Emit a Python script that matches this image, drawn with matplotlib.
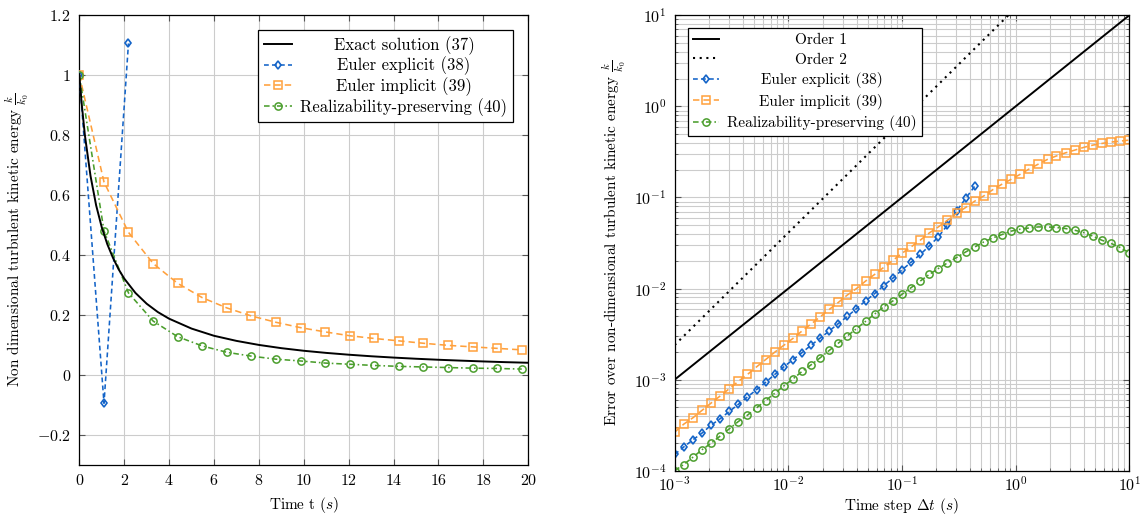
import matplotlib
matplotlib.use("Agg")
import matplotlib.pyplot as plt

plt.rcParams.update({
    'font.family': 'serif',
    'font.serif': ['cmr10'],
    'mathtext.fontset': 'cm',
    'axes.formatter.use_mathtext': True,
    'font.size': 11.5,
})

blue = '#1464c8'
orange = '#ffa03c'
green = '#4b9e2d'
grid_gray = '#cccccc'

# ---- left panel : k/k0 vs time ----
t_exact = [0, 0.1, 0.25, 0.5, 0.75, 1, 1.25, 1.5, 1.75, 2, 2.5, 3, 3.5, 4, 5, 6, 7, 8,
           9, 10, 11, 12, 13, 14, 15, 16, 17, 18, 19, 20]
k_exact = [1, 0.909, 0.798, 0.663, 0.565, 0.492, 0.435, 0.390, 0.352, 0.321, 0.273, 0.237,
           0.209, 0.187, 0.154, 0.130, 0.113, 0.0995, 0.0887, 0.080, 0.0729, 0.0669,
           0.0617, 0.0573, 0.0534, 0.050, 0.0471, 0.0444, 0.0420, 0.040]

t_explicit = [0, 1.1, 2.19]
k_explicit = [1, -0.095, 1.105]

t_steps = [0, 1.1, 2.19, 3.29, 4.38, 5.48, 6.57, 7.67, 8.76, 9.86, 10.95, 12.05, 13.14,
           14.24, 15.33, 16.43, 17.52, 18.62, 19.71]
k_implicit = [1, 0.643, 0.475, 0.371, 0.305, 0.257, 0.223, 0.196, 0.175, 0.157, 0.143,
              0.130, 0.121, 0.113, 0.105, 0.098, 0.093, 0.088, 0.083]
k_realiz = [1, 0.48, 0.273, 0.179, 0.127, 0.096, 0.075, 0.062, 0.052, 0.046, 0.039,
            0.035, 0.031, 0.028, 0.026, 0.024, 0.022, 0.021, 0.019]

left_xticks = [0, 2, 4, 6, 8, 10, 12, 14, 16, 18, 20]
left_yticks = [-0.2, 0, 0.2, 0.4, 0.6, 0.8, 1, 1.2]
left_ylabels = ['$-0.2$', '$0$', '$0.2$', '$0.4$', '$0.6$', '$0.8$', '$1$', '$1.2$']

# ---- right panel : error vs time step ----
dt = [1.00e-3, 1.20e-3, 1.45e-3, 1.74e-3, 2.09e-3, 2.51e-3, 3.02e-3, 3.63e-3, 4.37e-3,
      5.25e-3, 6.31e-3, 7.59e-3, 9.12e-3, 1.10e-2, 1.32e-2, 1.58e-2, 1.91e-2, 2.29e-2,
      2.75e-2, 3.31e-2, 3.98e-2, 4.79e-2, 5.75e-2, 6.92e-2, 8.32e-2, 0.100, 0.120, 0.145,
      0.174, 0.209, 0.251, 0.302, 0.363, 0.437, 0.525, 0.631, 0.759, 0.912, 1.10, 1.32,
      1.58, 1.91, 2.29, 2.75, 3.31, 3.98, 4.79, 5.75, 6.92, 8.32, 10.0]
err_explicit = [1.51e-4, 1.82e-4, 2.19e-4, 2.59e-4, 3.16e-4, 3.72e-4, 4.47e-4, 5.35e-4,
                6.46e-4, 7.76e-4, 9.33e-4, 1.14e-3, 1.38e-3, 1.66e-3, 1.98e-3, 2.38e-3,
                2.86e-3, 3.42e-3, 4.12e-3, 4.95e-3, 6.03e-3, 7.33e-3, 8.81e-3, 1.08e-2,
                1.30e-2, 1.60e-2, 1.94e-2, 2.37e-2, 2.94e-2, 3.69e-2, 4.97e-2, 7.08e-2,
                9.75e-2, 0.133]
err_implicit = [2.65e-4, 3.24e-4, 3.82e-4, 4.60e-4, 5.53e-4, 6.61e-4, 7.94e-4, 9.57e-4,
                1.14e-3, 1.38e-3, 1.66e-3, 2.00e-3, 2.38e-3, 2.84e-3, 3.42e-3, 4.07e-3,
                4.90e-3, 5.89e-3, 7.03e-3, 8.51e-3, 1.00e-2, 1.21e-2, 1.43e-2, 1.71e-2,
                2.04e-2, 2.44e-2, 2.86e-2, 3.40e-2, 4.08e-2, 4.75e-2, 5.62e-2, 6.67e-2,
                7.76e-2, 9.12e-2, 0.104, 0.122, 0.140, 0.158, 0.180, 0.206, 0.232, 0.262,
                0.286, 0.309, 0.331, 0.355, 0.376, 0.392, 0.406, 0.416, 0.427]
err_realiz = [1.00e-4, 1.17e-4, 1.41e-4, 1.70e-4, 2.00e-4, 2.40e-4, 2.88e-4, 3.47e-4,
              4.07e-4, 4.90e-4, 5.89e-4, 7.08e-4, 8.51e-4, 1.02e-3, 1.23e-3, 1.45e-3,
              1.74e-3, 2.09e-3, 2.51e-3, 3.02e-3, 3.63e-3, 4.37e-3, 5.25e-3, 6.31e-3,
              7.31e-3, 8.65e-3, 1.02e-2, 1.21e-2, 1.43e-2, 1.66e-2, 1.91e-2, 2.19e-2,
              2.52e-2, 2.86e-2, 3.25e-2, 3.60e-2, 3.92e-2, 4.27e-2, 4.49e-2, 4.63e-2,
              4.75e-2, 4.75e-2, 4.68e-2, 4.56e-2, 4.37e-2, 4.12e-2, 3.76e-2, 3.39e-2,
              3.13e-2, 2.82e-2, 2.47e-2]

order1_dt = [1e-3, 10]
order1_err = [1e-3, 10]
order2_dt = [1e-3, 1.0]
order2_err = [2.4e-3, 12.0]

right_xticks = [1e-3, 1e-2, 1e-1, 1e0, 1e1]
right_xlabels = ['$10^{-3}$', '$10^{-2}$', '$10^{-1}$', '$10^{0}$', '$10^{1}$']
right_yticks = [1e-4, 1e-3, 1e-2, 1e-1, 1e0, 1e1]
right_ylabels = ['$10^{-4}$', '$10^{-3}$', '$10^{-2}$', '$10^{-1}$', '$10^{0}$', '$10^{1}$']


fig = plt.figure(figsize=(11.41, 5.14), dpi=100)
ax1 = fig.add_axes([0.0695, 0.0959, 0.3935, 0.875])
ax2 = fig.add_axes([0.5913, 0.0842, 0.3984, 0.886])

lw_c = 1.15
ax1.plot(t_exact, k_exact, color='black', lw=1.4, label='Exact solution (37)', zorder=4)
ax1.plot(t_explicit, k_explicit, color=blue, lw=lw_c, ls=(0, (3, 2)), marker='d',
         ms=4.5, mfc='none', mew=1.2, label='Euler explicit (38)', zorder=3)
ax1.plot(t_steps, k_implicit, color=orange, lw=lw_c, ls=(0, (4, 2.5)), marker='s',
         ms=5.2, mfc='none', mew=1.1, label='Euler implicit (39)', zorder=3)
ax1.plot(t_steps, k_realiz, color=green, lw=lw_c, ls=(0, (3.5, 1.8, 1, 1.8)), marker='o',
         ms=5.2, mfc='none', mew=1.1, label='Realizability-preserving (40)', zorder=3)

ax1.set_xlim(0, 20)
ax1.set_ylim(-0.3, 1.2)
ax1.set_xticks(left_xticks)
ax1.set_xticklabels(['$%d$' % v for v in left_xticks])
ax1.set_yticks(left_yticks)
ax1.set_yticklabels(left_ylabels)
ax1.grid(True, color=grid_gray, lw=0.8)
ax1.set_axisbelow(True)
ax1.set_xlabel('Time t $(s)$', fontsize=11, labelpad=5)
ax1.set_ylabel(r'Non dimensional turbulent kinetic energy $\frac{k}{k_0}$', fontsize=11)

ax2.plot(order1_dt, order1_err, color='black', lw=1.4, label='Order 1')
ax2.plot(order2_dt, order2_err, color='black', lw=1.5, ls=(0, (1, 2.2)), label='Order 2')
ax2.plot(dt[:len(err_explicit)], err_explicit, color=blue, lw=lw_c, ls=(0, (3, 2)),
         marker='d', ms=4.5, mfc='none', mew=1.2, label='Euler explicit (38)')
ax2.plot(dt, err_implicit, color=orange, lw=lw_c, ls=(0, (4, 2.5)), marker='s',
         ms=5.2, mfc='none', mew=1.1, label='Euler implicit (39)')
ax2.plot(dt, err_realiz, color=green, lw=lw_c, ls=(0, (3.5, 1.8, 1, 1.8)), marker='o',
         ms=5.2, mfc='none', mew=1.1, label='Realizability-preserving (40)')

ax2.set_xscale('log')
ax2.set_yscale('log')
ax2.set_xlim(1e-3, 10)
ax2.set_ylim(1e-4, 10)
ax2.set_xticks(right_xticks)
ax2.set_xticklabels(right_xlabels)
ax2.set_yticks(right_yticks)
ax2.set_yticklabels(right_ylabels)
ax2.grid(True, which='both', color=grid_gray, lw=0.8)
ax2.set_axisbelow(True)
ax2.set_xlabel(r'Time step $\Delta t$ $(s)$', fontsize=11, labelpad=2)
ax2.set_ylabel(r'Error over non-dimensional turbulent kinetic energy $\frac{k}{k_0}$',
               fontsize=11)

for ax in (ax1, ax2):
    ax.tick_params(which='both', direction='in', top=True, right=True, color='#555555')
    ax.tick_params(which='major', length=4, pad=6)
    ax.tick_params(which='minor', length=2.5)
    for s in ax.spines.values():
        s.set_linewidth(0.9)
ax2.tick_params(axis='x', which='major', pad=3)

leg_kw = dict(fancybox=False, edgecolor='black', framealpha=1, handlelength=1.7,
              borderpad=0.35, handletextpad=0.5)
leg1 = ax1.legend(loc='upper right', borderaxespad=0.9, fontsize=12, labelspacing=0.12,
                  **leg_kw)
leg2 = ax2.legend(loc='upper left', borderaxespad=0.85, fontsize=11, labelspacing=0.36,
                  **leg_kw)

# centre legend texts like pgfplots does
fig.canvas.draw()
r = fig.canvas.get_renderer()
for leg in (leg1, leg2):
    leg.get_frame().set_linewidth(0.9)
    texts = leg.get_texts()
    widths = [t.get_window_extent(r).width for t in texts]
    wmax = max(widths)
    for t, w in zip(texts, widths):
        t.set_position(((wmax - w) / 2, 0))

fig.savefig('out.png', dpi=100)
